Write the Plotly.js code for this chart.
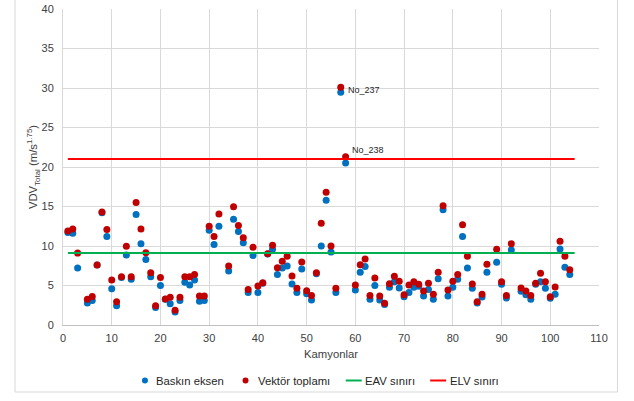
<!DOCTYPE html>
<html>
<head>
<meta charset="utf-8">
<script src="https://cdn.plot.ly/plotly-3.0.1.min.js"></script>
<style>
  html, body { margin: 0; padding: 0; background: #ffffff; }
  #chart { width: 634px; height: 401px; }
</style>
</head>
<body>
<div id="chart"></div>
<script>
// Truck numbers (some trucks have no measurement)
const trucks = [1,2,3,5,6,7,8,9,10,11,12,13,14,15,16,17,18,19,20,21,22,23,24,25,26,27,28,29,30,31,32,
  34,35,36,37,38,39,40,41,42,43,44,45,46,47,48,49,50,51,52,53,54,55,56,57,58,
  60,61,62,63,64,65,66,67,68,69,70,71,72,73,74,75,76,77,78,79,80,81,82,83,84,85,86,87,
  89,90,91,92,94,95,96,97,98,99,100,101,102,103,104];

// VDV of the dominant axis (m/s^1.75)
const dominantAxis = [11.7,11.6,7.2,2.8,3.1,7.6,14.2,11.2,4.6,2.45,6.0,8.86,5.8,14.0,10.3,8.3,6.1,2.2,5.0,3.25,2.7,1.65,3.1,5.4,5.06,5.7,3.0,3.1,12.0,10.2,12.5,
  6.84,13.4,11.85,10.4,4.1,8.8,4.1,5.3,8.98,9.6,6.4,7.2,7.47,5.2,4.1,7.1,3.97,3.16,6.5,10.0,15.8,9.24,4.1,29.45,20.5,
  4.43,6.67,7.4,3.25,5.0,3.16,2.6,4.77,5.49,4.68,3.59,4.1,4.77,4.9,3.67,4.5,3.25,5.86,14.6,3.67,4.77,5.8,11.2,7.2,4.64,2.8,3.54,6.67,
  7.93,5.15,3.42,9.5,4.26,3.84,3.25,5.15,5.49,4.64,3.4,3.88,9.62,7.3,6.4];

// VDV vector sum (m/s^1.75)
const vectorSum = [11.9,12.15,9.1,3.25,3.6,7.6,14.3,12.1,5.7,2.95,6.1,9.96,6.1,15.5,12.15,9.15,6.6,2.45,6.0,3.3,3.5,1.86,3.5,6.1,6.1,6.4,3.67,3.67,12.5,11.2,14.05,
  7.47,14.98,12.6,11.05,4.5,9.83,4.94,5.36,9.03,10.1,7.26,8.06,8.7,6.2,4.64,7.97,4.35,3.75,6.6,12.87,16.8,10.0,4.64,30.1,21.3,
  5.06,7.64,8.35,3.75,5.95,3.67,2.74,5.23,6.16,5.53,3.84,5.06,5.49,5.15,4.3,5.3,3.88,6.67,15.1,4.43,5.53,6.4,12.7,8.7,5.2,2.95,3.88,7.68,
  9.58,5.49,3.75,10.3,4.68,4.3,3.75,5.3,6.54,5.49,3.59,4.81,10.6,8.7,7.0];

// Exposure limits
const limitX = [1, 105];
const eavValue = 9.1;
const elvValue = 21;

// Labelled trucks
const labelTrucks = [57, 58];
const labelTexts = ['No_237', 'No_238'];

const xTicks = [0,10,20,30,40,50,60,70,80,90,100,110];
const yTicks = [0,5,10,15,20,25,30,35,40];

const seriesNames = ['Baskın eksen', 'Vektör toplamı', 'EAV sınırı', 'ELV sınırı'];
const seriesColors = ['#0070C0', '#C00000', '#00B050', '#FF0000'];

const FONT = 'Liberation Sans, Arial, sans-serif';
const TXT = '#404040';

const traces = [
  { x: trucks, y: dominantAxis, name: seriesNames[0], type: 'scatter', mode: 'markers',
    marker: { color: seriesColors[0], size: 7 } },
  { x: trucks, y: vectorSum, name: seriesNames[1], type: 'scatter', mode: 'markers',
    marker: { color: seriesColors[1], size: 7 } },
  { x: limitX, y: limitX.map(() => eavValue), name: seriesNames[2], type: 'scatter', mode: 'lines',
    line: { color: seriesColors[2], width: 2 } },
  { x: limitX, y: limitX.map(() => elvValue), name: seriesNames[3], type: 'scatter', mode: 'lines',
    line: { color: seriesColors[3], width: 2 } }
];

function valueAt(t) { return vectorSum[trucks.indexOf(t)]; }

const annotations = [
  { x: labelTrucks[0], y: valueAt(labelTrucks[0]), text: labelTexts[0], showarrow: false,
    xanchor: 'left', yanchor: 'middle', xshift: 5, yshift: -3, font: { family: FONT, size: 9, color: '#262626' } },
  { x: labelTrucks[1], y: valueAt(labelTrucks[1]), text: labelTexts[1], showarrow: false,
    xanchor: 'left', yanchor: 'bottom', xshift: 4, yshift: 0, font: { family: FONT, size: 9, color: '#262626' } }
];

// Legend row below the plot, laid out in pixels relative to the plot area
const plotL = 63, plotW = 536.5, plotB = 325, plotH = 316;
const px = v => (v - plotL) / plotW;
const py = v => (plotB - v) / plotH;
const legendY = 380.5;
const legendItems = [
  { kind: 'marker', symX: 145, textX: 154 },
  { kind: 'marker', symX: 245.7, textX: 256 },
  { kind: 'line', symX0: 346, symX1: 362, textX: 363 },
  { kind: 'line', symX0: 430.5, symX1: 446.5, textX: 448.5 }
];

const shapes = [
  // chart-area frame
  { type: 'rect', xref: 'paper', yref: 'paper', x0: px(15), x1: px(618), y0: py(392), y1: py(-5),
    line: { color: '#D9D9D9', width: 1 }, fillcolor: 'rgba(0,0,0,0)', layer: 'below' }
];

legendItems.forEach((it, i) => {
  if (it.kind === 'marker') {
    shapes.push({ type: 'circle', xref: 'paper', yref: 'paper', xsizemode: 'pixel', ysizemode: 'pixel',
      xanchor: px(it.symX), yanchor: py(legendY), x0: -3, x1: 3, y0: -3, y1: 3,
      fillcolor: seriesColors[i], line: { width: 0 } });
  } else {
    shapes.push({ type: 'line', xref: 'paper', yref: 'paper', x0: px(it.symX0), x1: px(it.symX1),
      y0: py(legendY), y1: py(legendY), line: { color: seriesColors[i], width: 2 } });
  }
  annotations.push({ xref: 'paper', yref: 'paper', x: px(it.textX), y: py(legendY), text: seriesNames[i],
    showarrow: false, xanchor: 'left', yanchor: 'middle', font: { family: FONT, size: 11.3, color: '#262626' } });
});

const layout = {
  width: 634, height: 401,
  margin: { l: 63, r: 34.5, t: 9, b: 76 },
  paper_bgcolor: '#ffffff', plot_bgcolor: '#ffffff',
  font: { family: FONT, size: 11, color: TXT },
  showlegend: false,
  xaxis: {
    range: [0, 110], tickvals: xTicks, ticktext: xTicks.map(String), automargin: false,
    showgrid: true, gridcolor: '#D9D9D9', gridwidth: 1,
    showline: true, linecolor: '#BFBFBF', linewidth: 1, zeroline: false,
    ticks: '', ticklabelstandoff: 3,
    tickfont: { family: FONT, size: 11, color: TXT },
    title: { text: 'Kamyonlar', font: { family: FONT, size: 11.3, color: TXT }, standoff: 6 }
  },
  yaxis: {
    range: [0, 40], tickvals: yTicks, ticktext: yTicks.map(String), automargin: false,
    showgrid: true, gridcolor: '#D9D9D9', gridwidth: 1,
    showline: true, linecolor: '#D9D9D9', linewidth: 1, zeroline: false,
    ticks: '', ticklabelstandoff: 6,
    tickfont: { family: FONT, size: 11, color: TXT },
    title: { text: 'VDV<sub>Total</sub> (m/s<sup>1.75</sup>)', font: { family: FONT, size: 11.3, color: TXT }, standoff: 0 }
  },
  annotations: annotations,
  shapes: shapes
};

Plotly.newPlot('chart', traces, layout, { displayModeBar: false, staticPlot: true });
</script>
</body>
</html>
